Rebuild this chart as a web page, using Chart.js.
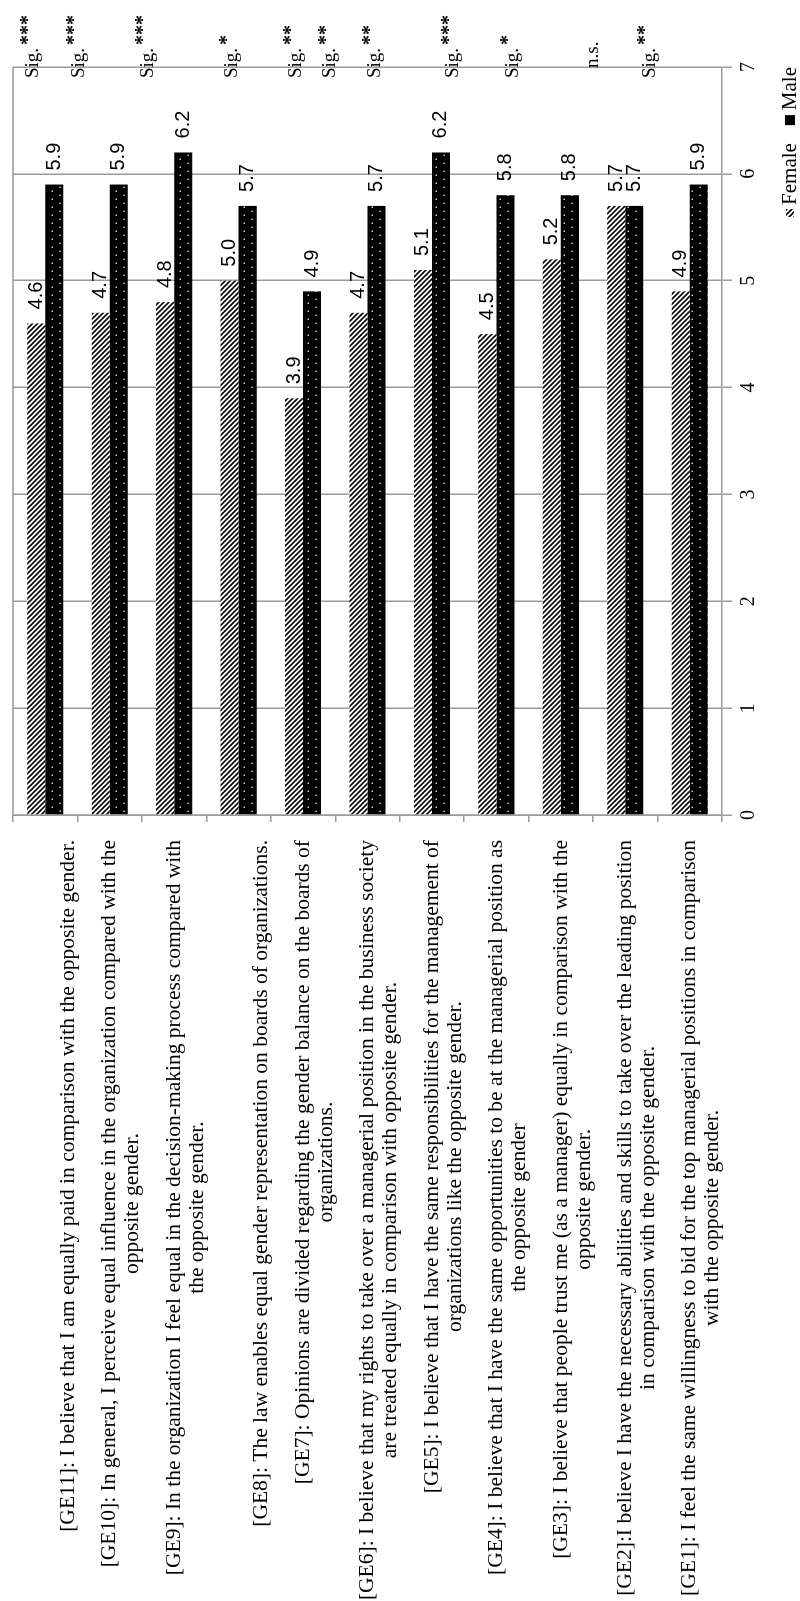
<!DOCTYPE html>
<html>
<head>
<meta charset="utf-8">
<title>Gender equality perception</title>
<script src="https://cdn.jsdelivr.net/npm/chart.js@4.4.0/dist/chart.umd.min.js"></script>
<style>
  html, body { margin: 0; padding: 0; background: #fff; }
  body { width: 800px; height: 1601px; overflow: hidden; position: relative; }
  /* the chart is drawn landscape and turned a quarter to the left */
  #wrap {
    position: absolute; left: 0; top: 0;
    width: 1601px; height: 800px;
    transform-origin: 0 0;
    transform: translateY(1601px) rotate(-90deg);
  }
</style>
</head>
<body>
<div id="wrap"><canvas id="chart" width="1601" height="800"></canvas></div>
<script>
// categories, each one a list of label lines (empty first line = label sits one line lower)
const categories = [
  ['', '[GE11]: I believe that I am equally paid in comparison with the opposite gender.'],
  ['[GE10]: In general, I perceive equal influence in the organization compared with the', 'opposite gender.'],
  ['[GE9]: In the organization I feel equal in the decision-making process compared with', 'the opposite gender.'],
  ['', '[GE8]: The law enables equal gender representation on boards of organizations.'],
  ['[GE7]: Opinions are divided regarding the gender balance on the boards of', 'organizations.'],
  ['[GE6]: I believe that my rights to take over a managerial position in the business society', 'are treated equally in comparison with opposite gender.'],
  ['[GE5]: I believe that I have the same responsibilities for the management of', 'organizations like the opposite gender.'],
  ['[GE4]: I believe that I have the same opportunities to be at the managerial position as', 'the opposite gender'],
  ['[GE3]: I believe that people trust me (as a manager) equally in comparison with the', 'opposite gender.'],
  ['[GE2]:I believe I have the necessary abilities and skills to take over the leading position', 'in comparison with the opposite gender.'],
  ['[GE1]: I feel the same willingness to bid for the top managerial positions in comparison', 'with the opposite gender.']
];
const female = [4.6, 4.7, 4.8, 5.0, 3.9, 4.7, 5.1, 4.5, 5.2, 5.7, 4.9];
const male = [5.9, 5.9, 6.2, 5.7, 4.9, 5.7, 6.2, 5.8, 5.8, 5.7, 5.9];
const sigText = ['Sig.', 'Sig.', 'Sig.', 'Sig.', 'Sig.', 'Sig.', 'Sig.', 'Sig.', 'Sig.', 'n.s.', 'Sig.'];
const sigStars = ['***', '***', '***', '*', '**', '**', '**', '***', '*', '', '**'];
const valueTicks = [0, 1, 2, 3, 4, 5, 6, 7];

// layout only: how far each significance note sits from its category centre (px)
const sigNudge = [-12, -31, -26, -7, -7, -37, -57, -43, -48, -32, -40];

const SERIF = "'Liberation Serif', 'Times New Roman', serif";
const NARROW = "'Liberation Sans Narrow', 'Liberation Sans', Arial, sans-serif";
const GRID = '#9a9a9a';

const canvas = document.getElementById('chart');
const ctx = canvas.getContext('2d');

function hatchPattern() {
  const t = document.createElement('canvas');
  t.width = 5; t.height = 5;
  const g = t.getContext('2d');
  g.fillStyle = '#fff';
  g.fillRect(0, 0, 5, 5);
  g.strokeStyle = '#000';
  g.lineWidth = 1.6;
  g.beginPath();
  g.moveTo(-1, -1); g.lineTo(6, 6);
  g.moveTo(-1, 4); g.lineTo(1, 6);
  g.moveTo(4, -1); g.lineTo(6, 1);
  g.stroke();
  return ctx.createPattern(t, 'repeat');
}

function dotPattern() {
  // black fill, small light dots 8px apart along the bar, staggered across it
  const t = document.createElement('canvas');
  t.width = 8; t.height = 16;
  const g = t.getContext('2d');
  g.fillStyle = '#000';
  g.fillRect(0, 0, 8, 16);
  g.fillStyle = '#d8d8d8';
  g.fillRect(1, 3.5, 1.4, 1.4);
  g.fillRect(5, 11.5, 1.4, 1.4);
  return ctx.createPattern(t, 'repeat');
}

const hatch = hatchPattern();
const dots = dotPattern();

const extras = {
  id: 'extras',
  beforeDraw(chart) {
    const c = chart.ctx;
    c.save();
    c.fillStyle = '#fff';
    c.fillRect(0, 0, chart.width, chart.height);
    c.restore();
  },
  afterDraw(chart) {
    const c = chart.ctx;
    const a = chart.chartArea;
    const yScale = chart.scales.y;
    c.save();

    // closing line along the far side of the plot
    c.strokeStyle = GRID;
    c.lineWidth = 1.5;
    c.beginPath();
    c.moveTo(a.left, a.top);
    c.lineTo(a.right, a.top);
    c.stroke();

    // category labels: block pushed against the axis, lines centred inside it
    c.fillStyle = '#000';
    c.font = '21.5px ' + SERIF;
    c.textBaseline = 'middle';
    c.textAlign = 'center';
    const lineH = 23;
    categories.forEach((lines, i) => {
      const yc = yScale.getPixelForValue(i);
      const w = Math.max(...lines.map(l => c.measureText(l).width));
      const cx = a.left - 25 - w / 2;
      lines.forEach((l, k) => c.fillText(l, cx, yc + k * lineH));
    });

    // value labels at the end of each bar
    c.font = '20px ' + NARROW;
    c.textAlign = 'left';
    chart.data.datasets.forEach((ds, d) => {
      chart.getDatasetMeta(d).data.forEach((bar, i) => {
        c.fillText(ds.data[i].toFixed(1), bar.x + 14, bar.y);
      });
    });

    // significance notes
    categories.forEach((_, i) => {
      const yc = yScale.getPixelForValue(i) + sigNudge[i];
      const x0 = sigText[i] === 'n.s.' ? a.right - 1 : a.right - 11;
      c.font = '19px ' + SERIF;
      c.fillText(sigText[i], x0, yc);
      if (sigStars[i]) {
        const w = c.measureText(sigText[i]).width;
        c.font = 'bold 20px ' + SERIF;
        c.fillText(sigStars[i], x0 + w + 3, yc - 4);
      }
    });

    // legend, right end lined up with the top of the value scale
    const ly = 790;
    c.font = '21px ' + SERIF;
    const ds = chart.data.datasets;
    const maleW = c.measureText(ds[1].label).width;
    const femW = c.measureText(ds[0].label).width;
    let x = a.right - maleW;
    c.fillText(ds[1].label, x, ly);
    x -= 15;
    c.fillStyle = '#000';
    c.fillRect(x, ly - 5, 10, 10);
    x -= 18 + femW;
    c.fillText(ds[0].label, x, ly);
    x -= 12;
    c.fillStyle = ds[0].backgroundColor;
    c.fillRect(x, ly - 4, 8, 8);

    c.restore();
  }
};

new Chart(ctx, {
  type: 'bar',
  data: {
    labels: categories,
    datasets: [
      { label: 'Female', data: female, backgroundColor: hatch, borderWidth: 0 },
      { label: 'Male', data: male, backgroundColor: dots, borderWidth: 0 }
    ]
  },
  options: {
    indexAxis: 'y',
    responsive: false,
    animation: false,
    categoryPercentage: 0.56,
    barPercentage: 1.0,
    layout: { padding: { top: 13, left: 779, right: 67, bottom: 0 } },
    plugins: {
      legend: { display: false },
      tooltip: { enabled: false }
    },
    scales: {
      x: {
        type: 'linear',
        position: 'bottom',
        min: valueTicks[0],
        max: valueTicks[valueTicks.length - 1],
        afterBuildTicks: s => { s.ticks = valueTicks.map(v => ({ value: v })); },
        afterFit: s => { s.height = 78; },
        grid: { color: GRID, lineWidth: 1.5, tickLength: 10 },
        border: { color: GRID, width: 1.5 },
        ticks: { color: '#000', padding: 5, font: { family: SERIF, size: 20 } }
      },
      y: {
        type: 'category',
        position: 'left',
        offset: true,
        grid: { color: GRID, lineWidth: 1.5, tickLength: 7, drawOnChartArea: false, offset: true },
        border: { color: GRID, width: 1.5 },
        ticks: { display: false }
      }
    }
  },
  plugins: [extras]
});
</script>
</body>
</html>
